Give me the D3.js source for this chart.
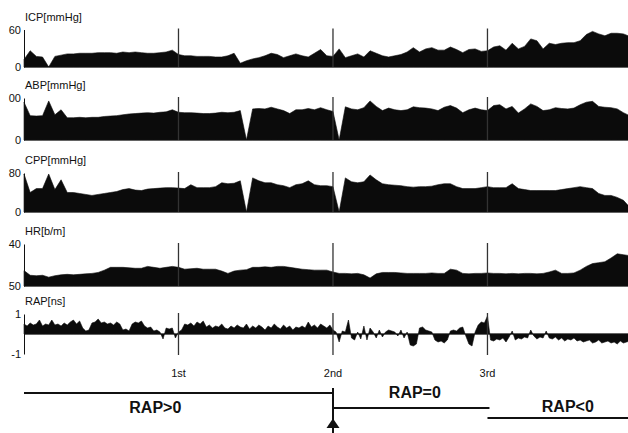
<!DOCTYPE html>
<html>
<head>
<meta charset="utf-8">
<script src="https://cdn.jsdelivr.net/npm/d3@7"></script>
<style>
  body { margin: 0; background: #fff; }
  text { font-family: "Liberation Sans", Arial, sans-serif; fill: #111; }
</style>
</head>
<body>
<div id="chart"></div>
<script>
// samples every 0.04 day (ICP, ABP, CPP, HR) and every 0.02 day (RAP)
var step = 0.04, rapStep = 0.02;

var icp = [12,26,17,16,0,17,19,21,21,22, 22,22,23,23,23,22,24,23,24,23,
  22,22,23,24,27,20,18,18,17,17, 17,16,16,18,22,6,10,13,15,18,
  22,20,15,18,21,18,16,22,28,18, 17,29,15,18,21,16,26,22,18,16,
  18,20,24,31,24,29,31,27,27,32, 28,23,28,29,25,26,32,34,27,38,
  29,33,45,42,29,38,36,38,39,39, 42,52,57,53,50,54,54,53,49];

var abp = [90,58,57,58,93,60,72,53,53,54, 53,54,54,56,57,58,60,62,63,64,
  65,64,66,67,72,66,65,65,64,63, 63,64,66,65,66,70,0,74,75,74,
  78,74,70,63,72,72,75,72,77,72, 68,0,79,74,72,77,93,80,70,76,
  72,70,72,79,77,76,74,70,78,82, 76,65,72,76,72,70,82,84,74,80,
  64,74,86,80,70,72,77,75,74,76, 84,90,92,80,78,77,74,65,58];

var cpp = [78,40,48,48,78,46,66,40,40,38, 36,34,36,38,40,42,46,48,45,44,
  47,48,49,50,50,49,48,56,50,50, 50,52,60,58,59,64,0,70,64,60,
  60,56,54,50,56,58,64,56,54,54, 52,0,70,62,60,62,76,66,58,56,
  55,54,52,51,52,52,53,56,58,58, 52,48,48,48,50,52,50,50,50,58,
  48,46,44,44,44,44,44,46,48,50, 52,50,48,38,34,34,30,24,10];

var hr = [83,73,72,73,69,72,74,75,74,75, 76,77,79,84,90,90,90,89,88,88,
  92,90,88,90,92,90,86,87,88,86, 86,86,82,77,82,84,85,90,90,91,
  90,92,92,90,88,86,85,84,84,84, 80,77,77,76,77,74,67,76,79,79,
  79,78,77,77,77,77,78,77,77,86, 84,77,76,77,77,78,77,77,76,77,
  76,77,77,76,77,80,84,77,77,78, 84,92,98,100,102,110,119,117,115];

var rap = [0.5,0.4,0.55,0.45,0.5,0.7,0.4,0.5,0.45,0.7,
  0.45,0.5,0.4,0.55,0.45,0.6,0.7,0.5,0.65,0.3,
  0.15,0.2,0.55,0.6,0.75,0.55,0.6,0.5,0.55,0.45,
  0.6,0.5,0.2,0.25,0.15,0.5,0.6,0.55,0.65,0.4,
  0.3,0.35,0.15,0.2,0.1,-0.25,0.3,0.25,0.3,-0.2,
  0.1,0.2,0.5,0.45,0.55,0.4,0.6,0.5,0.65,0.35,
  0.45,0.3,0.4,0.35,0.5,0.3,0.25,0.4,0.3,0.45,
  0.35,0.3,0.5,0.25,0.4,0.3,0.45,0.35,0.2,0.4,
  0.3,0.5,0.35,0.25,0.45,0.3,0.4,0.2,0.35,0.3,
  0.4,0.3,0.6,0.35,0.45,0.3,0.5,0.4,0.3,0.45,
  0.2,0.1,-0.4,0.15,0.1,0.7,-0.2,-0.3,0.1,-0.25,
  0.4,-0.3,0.3,0.1,-0.2,0.2,-0.15,0.1,0.2,0.15,
  0.1,-0.1,0.2,-0.2,0.1,-0.55,-0.6,-0.5,0.3,0.35,
  0.2,0.15,0.1,-0.3,-0.4,-0.35,-0.45,-0.3,0.15,0.2,
  0.15,0.3,0.35,-0.1,-0.5,-0.6,0.1,0.45,0.6,0.55,
  0.9,-0.3,-0.35,-0.25,-0.3,-0.2,-0.4,-0.15,0.15,-0.3,
  -0.2,-0.25,-0.15,-0.2,0.2,-0.1,-0.25,-0.15,-0.2,0.15,
  -0.2,-0.25,-0.15,-0.3,-0.2,-0.35,-0.25,-0.3,-0.2,-0.35,
  -0.3,-0.4,-0.35,-0.3,-0.45,-0.4,-0.3,-0.45,-0.4,-0.35,
  -0.45,-0.4,-0.5,-0.35,-0.45,-0.4,-0.35];

var markerTimes = [1, 2, 3];
var markerLabels = ["1st", "2nd", "3rd"];
var phaseLabels = ["RAP>0", "RAP=0", "RAP<0"];
var phaseBounds = [0, 2, 3, 3.92];

var width = 628, height = 433;

var svg = d3.select("#chart").append("svg")
    .attr("width", width)
    .attr("height", height);

var x = d3.scaleLinear().domain([0, 3.92]).range([24, 629.6]);

// one panel per signal
var panels = [
  {name: "ICP[mmHg]", values: icp, dt: step, domain: [0, 60], ticks: ["0", "60"], top: 29.5, bottom: 67, base: 0},
  {name: "ABP[mmHg]", values: abp, dt: step, domain: [0, 100], ticks: ["0", "00"], top: 98, bottom: 140, base: 0},
  {name: "CPP[mmHg]", values: cpp, dt: step, domain: [0, 80], ticks: ["0", "80"], top: 173, bottom: 212, base: 0},
  {name: "HR[b/m]", values: hr, dt: step, domain: [50, 140], ticks: ["50", "40"], top: 244, bottom: 286, base: 50},
  {name: "RAP[ns]", values: rap, dt: rapStep, domain: [-1, 1], ticks: ["-1", "1"], top: 314, bottom: 354, base: 0}
];

panels.forEach(function(p) {
  var y = d3.scaleLinear().domain(p.domain).range([p.bottom, p.top]);
  var g = svg.append("g");

  var area = d3.area()
    .x(function(d, i) { return x(i * p.dt); })
    .y0(y(p.base))
    .y1(function(d) { return y(d); });

  g.append("path")
    .datum(p.values)
    .attr("d", area)
    .attr("fill", "#0b0b0b")
    .attr("stroke", "#0b0b0b")
    .attr("stroke-width", 0.6);

  // baseline
  g.append("line")
    .attr("x1", x(0)).attr("x2", width)
    .attr("y1", y(p.base)).attr("y2", y(p.base))
    .attr("stroke", "#111").attr("stroke-width", 1.2);

  // day markers
  g.selectAll(".mk")
    .data(markerTimes)
    .enter().append("line")
      .attr("x1", function(d) { return x(d); })
      .attr("x2", function(d) { return x(d); })
      .attr("y1", y(p.domain[1]) - 1)
      .attr("y2", y(p.domain[0]) + (p.base === p.domain[0] ? 0 : 1))
      .attr("stroke", "#333")
      .attr("stroke-width", 1.3);

  var ax = g.append("g")
    .attr("transform", "translate(" + x(0) + ",0)")
    .call(d3.axisLeft(y)
      .tickValues(p.domain)
      .tickFormat(function(d, i) { return p.ticks[i]; })
      .tickSize(0)
      .tickSizeOuter(0)
      .tickPadding(3));
  ax.select(".domain").attr("stroke", "#111").attr("stroke-width", 1);
  ax.selectAll(".tick text")
    .attr("font-size", 11)
    .attr("font-family", "Liberation Sans, Arial, sans-serif")
    .attr("fill", "#111");

  g.append("text")
    .attr("x", x(0) + 1)
    .attr("y", p.top - 9)
    .attr("font-size", 11)
    .text(p.name);
});

// day labels
svg.selectAll(".dl")
  .data(markerTimes)
  .enter().append("text")
    .attr("x", function(d) { return x(d); })
    .attr("y", 377)
    .attr("text-anchor", "middle")
    .attr("font-size", 11)
    .text(function(d, i) { return markerLabels[i]; });

// phase lines below
var phaseY = [393, 408, 418];
var pg = svg.append("g").attr("stroke", "#111").attr("stroke-width", 2);
phaseLabels.forEach(function(lab, i) {
  pg.append("line")
    .attr("x1", x(phaseBounds[i]))
    .attr("x2", Math.min(x(phaseBounds[i + 1]) + (i === 1 ? 2 : 0), width))
    .attr("y1", phaseY[i]).attr("y2", phaseY[i]);
});
pg.append("line")
  .attr("x1", x(2)).attr("x2", x(2))
  .attr("y1", 388).attr("y2", 433);
svg.append("path")
  .attr("d", "M" + x(2) + ",418.5L" + (x(2) + 6.5) + ",428L" + (x(2) - 6.5) + ",428Z")
  .attr("fill", "#111");

var labelAt = [0.85, 2.53, 3.52];
var labelY = [413, 398, 412];
svg.selectAll(".pl")
  .data(phaseLabels)
  .enter().append("text")
    .attr("x", function(d, i) { return x(labelAt[i]); })
    .attr("y", function(d, i) { return labelY[i]; })
    .attr("text-anchor", "middle")
    .attr("font-size", 16)
    .attr("font-weight", "bold")
    .text(function(d) { return d; });
</script>
</body>
</html>
